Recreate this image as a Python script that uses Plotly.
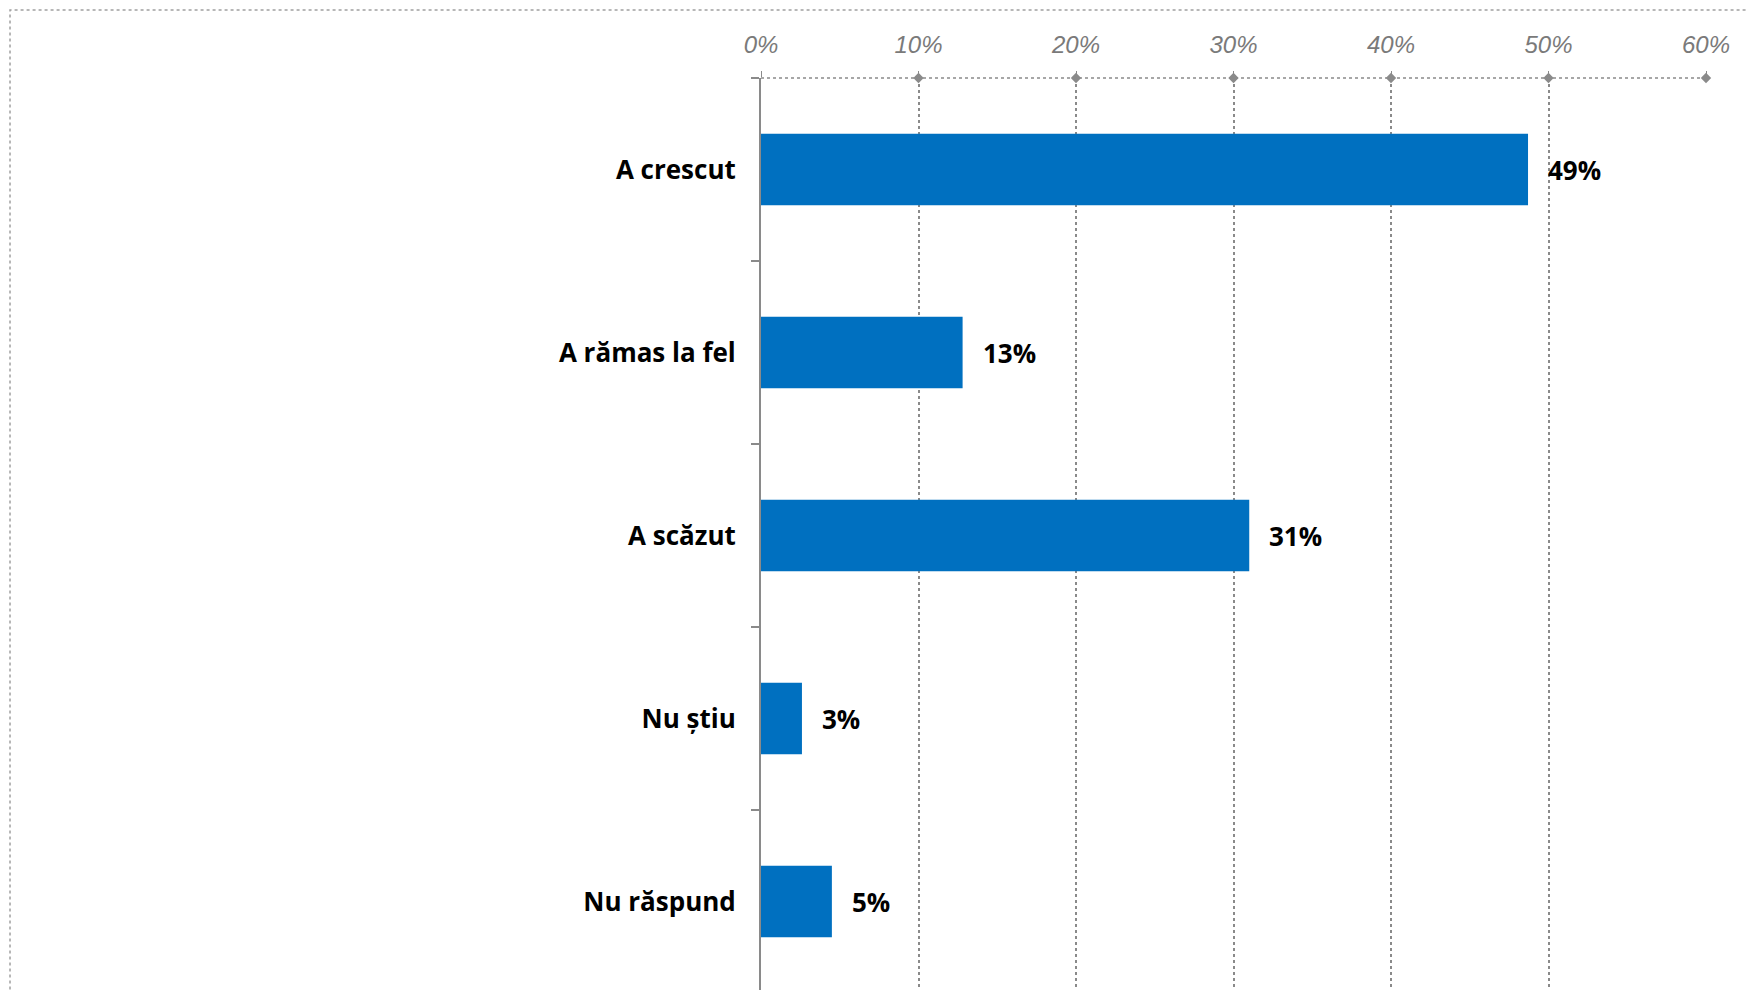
import plotly.graph_objects as go

categories = ["A crescut", "A rămas la fel", "A scăzut", "Nu știu", "Nu răspund"]
values = [48.7, 12.8, 31.0, 2.6, 4.5]
value_labels = ["49%", "13%", "31%", "3%", "5%"]
x_ticks = [0, 10, 20, 30, 40, 50, 60]
x_tick_labels = ["0%", "10%", "20%", "30%", "40%", "50%", "60%"]

ypos = list(range(len(categories)))
grey = "#8a8a8a"

fig = go.Figure()
fig.add_trace(go.Bar(
    x=values, y=ypos, orientation="h",
    marker=dict(color="#0070C0", line=dict(width=0)),
    width=0.39, hoverinfo="skip",
))

# little diamonds where the grid meets the top axis
fig.add_trace(go.Scatter(
    x=x_ticks[1:], y=[-0.5] * (len(x_ticks) - 1), mode="markers",
    marker=dict(symbol="diamond", size=8, color=grey),
    cliponaxis=False, hoverinfo="skip",
))

for v, lab, y in zip(values, value_labels, ypos):
    fig.add_annotation(x=v, y=y, text=lab, showarrow=False, xanchor="left",
                       xshift=18, font=dict(family="Open Sans", size=26, color="black",
                                            weight="bold"))

# dotted top axis line
fig.add_shape(type="line", xref="x", yref="paper", x0=0, x1=60, y0=1, y1=1,
              line=dict(color=grey, width=1.5, dash="dot"))
# dotted outer frame
fig.add_shape(type="rect", xref="paper", yref="paper",
              x0=-0.7947, x1=1.08, y0=-0.02, y1=1.0739,
              line=dict(color="#a0a0a0", width=1.5, dash="dot"))

fig.update_layout(
    width=1754, height=990,
    margin=dict(l=753, r=56, t=70, b=0),
    paper_bgcolor="white", plot_bgcolor="white",
    showlegend=False,
    bargap=0.61,
    xaxis=dict(
        side="top", range=[0, 60], tickvals=x_ticks, ticktext=x_tick_labels,
        showgrid=True, gridcolor=grey, gridwidth=2, griddash="dot",
        zeroline=False, showline=False,
        ticks="outside", ticklen=6, tickcolor=grey, tickwidth=1,
        ticklabelstandoff=8,
        tickfont=dict(family="Liberation Sans Narrow, Liberation Sans", size=24,
                      color="#7a7a7a", style="italic"),
        fixedrange=True,
    ),
    yaxis=dict(
        range=[4.527, -0.5], tickvals=ypos, ticktext=categories,
        showgrid=False, zeroline=False,
        showline=True, linecolor=grey, linewidth=2,
        ticks="", ticklabelstandoff=18,
        minor=dict(tickvals=[-0.5, 0.5, 1.5, 2.5, 3.5], ticks="outside",
                   ticklen=8, tickcolor=grey, tickwidth=1.5, showgrid=False),
        tickfont=dict(family="Open Sans", size=26, color="black", weight="bold"),
        fixedrange=True,
    ),
)

fig.write_html("out.html")
